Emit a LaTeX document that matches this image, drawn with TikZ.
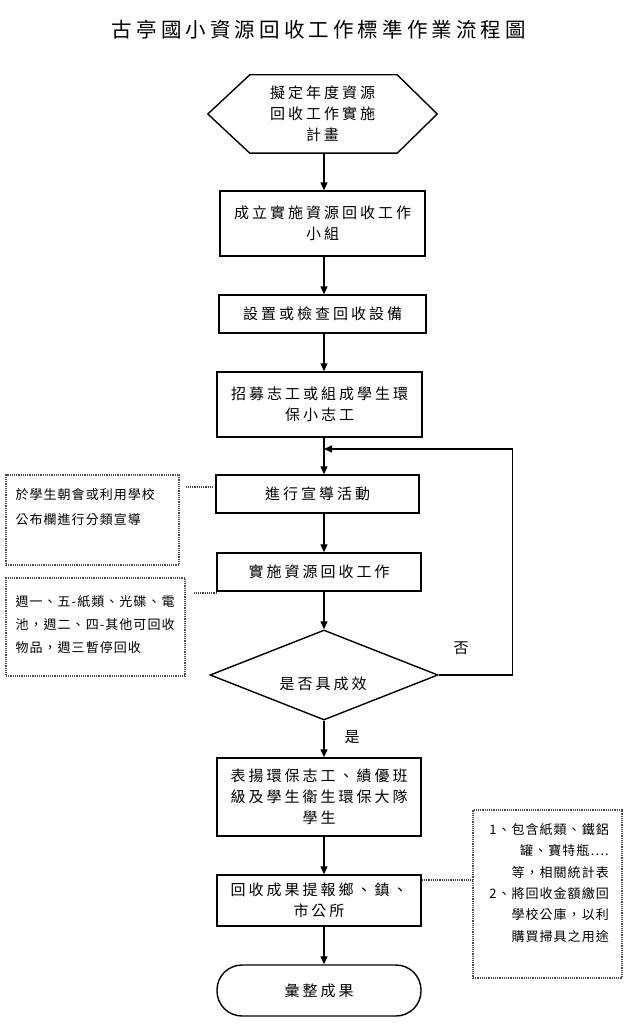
\documentclass[tikz,border=0pt]{standalone}
\usepackage{fontspec}
\newfontfamily\cjk[LetterSpace=20]{Noto Sans CJK TC}
\newfontfamily\cjkn[LetterSpace=8]{Noto Sans CJK TC}
\usetikzlibrary{arrows.meta,shapes.geometric}
\newcommand\mainf{\cjk\fontsize{15}{21}\selectfont}
\newcommand\titlef{\cjk\fontsize{20.5}{24}\selectfont}
\begin{document}
\begin{tikzpicture}[x=1pt,y=-1pt,
  box/.style={draw, line width=1.4pt, inner sep=0pt, align=center, font=\mainf},
  arr/.style={line width=1.3pt, -{Triangle[length=8pt,width=7pt]}},
  note/.style={draw=black!70, densely dotted, line width=1.2pt, inner sep=0pt},
  notetext/.style={inner sep=0pt, align=left},
  noteline/.style={draw=black!75, line width=1.2pt, densely dotted},
  lbl/.style={font=\mainf, inner sep=0pt}]
\useasboundingbox (0,0) rectangle (636,1024);
\fill[white] (0,0) rectangle (636,1024);

\node[font=\titlef, inner sep=0pt] (title) at (319,30) {古亭國小資源回收工作標準作業流程圖};

% hexagon
\node[font=\mainf, align=center, minimum width=229pt, minimum height=78pt, inner sep=0pt] (hex) at (322.5,114) {擬定年度資源\\回收工作實施\\計畫};
\draw[line width=1.4pt] (hex.west) -- ([xshift=42pt]hex.north west) -- ([xshift=-40pt]hex.north east) -- (hex.east) -- ([xshift=-40pt]hex.south east) -- ([xshift=42pt]hex.south west) -- cycle;

\node[box, minimum width=205pt, minimum height=65pt] (b2) at (322.5,223.5) {成立實施資源回收工作\\小組};
\node[box, minimum width=207pt, minimum height=38pt] (b3) at (322.5,314) {設置或檢查回收設備};
\node[box, minimum width=205pt, minimum height=65pt] (b4) at (319.5,404.5) {招募志工或組成學生環\\保小志工};
\node[box, minimum width=203pt, minimum height=38pt] (b5) at (317.5,494) {進行宣導活動};
\node[box, minimum width=204pt, minimum height=38pt] (b6) at (319,572) {實施資源回收工作};
\node[draw, line width=1.4pt, shape=diamond, minimum width=228pt, minimum height=90pt, inner sep=0pt] (dia) at (324,675) {};
\node[lbl] (diat) at (323,684) {是否具成效};
\node[box, minimum width=204pt, minimum height=78pt] (b7) at (319,797) {表揚環保志工、績優班\\級及學生衛生環保大隊\\學生};
\node[box, minimum width=204pt, minimum height=51pt] (b8) at (319,900.5) {回收成果提報鄉、鎮、\\市公所};
\node[box, minimum width=204pt, minimum height=51pt, rounded corners=25pt] (term) at (319,990.5) {彙整成果};

% main axis connectors
\coordinate (axis) at (324,0);
\coordinate (join) at (324,449);
\draw[arr] (hex.south -| axis) -- (b2.north -| axis);
\draw[arr] (b2.south -| axis) -- (b3.north -| axis);
\draw[arr] (b3.south -| axis) -- (b4.north -| axis);
\draw[arr] (b4.south -| axis) -- (b5.north -| axis);
\draw[arr] (b5.south -| axis) -- (b6.north -| axis);
\draw[arr] (b6.south -| axis) -- (dia.north);
\draw[arr] (dia.south) -- (b7.north -| dia.south);
\draw[arr] (b7.south -| axis) -- (b8.north -| axis);
\draw[arr] (b8.south -| axis) -- (term.north -| axis);
\draw[arr] (dia.east) -- ++(74pt,0) |- (join);

\node[lbl] (no) at (461,648) {否};
\node[lbl] (yes) at (352,737) {是};

% annotations
\node[note, minimum width=173pt, minimum height=90pt] (ann1) at (92.5,520) {};
\node[notetext, anchor=north west, font={\cjkn\fontsize{13}{25}\selectfont}] (ann1t) at ([xshift=10pt,yshift=-14pt]ann1.north west) {於學生朝會或利用學校\\公布欄進行分類宣導};
\node[note, minimum width=179pt, minimum height=98pt] (ann2) at (95.5,627) {};
\node[notetext, anchor=north west, font={\cjkn\fontsize{13}{23}\selectfont}] (ann2t) at ([xshift=10pt,yshift=-18pt]ann2.north west) {週一、五-紙類、光碟、電\\池，週二、四-其他可回收\\物品，週三暫停回收};
\node[note, minimum width=149pt, minimum height=168pt] (ann3) at (547.5,894) {};
\node[inner sep=0pt, align=right, anchor=north east, font={\cjkn\fontsize{13}{21.4}\selectfont}] (ann3t) at (609,823) {1、包含紙類、鐵鋁\\罐、寶特瓶….\\等，相關統計表\\2、將回收金額繳回\\學校公庫，以利\\購買掃具之用途};

\coordinate (c1) at (0,487);
\coordinate (c2) at (0,593);
\coordinate (c3) at (0,880);
\draw[noteline, shorten <=6pt, shorten >=3pt] (ann1.east |- c1) -- (b5.west |- c1);
\draw[noteline, shorten <=8pt] (ann2.east |- c2) -- (b6.west |- c2);
\draw[noteline] (b8.east |- c3) -- (ann3.west |- c3);
\end{tikzpicture}
\end{document}
